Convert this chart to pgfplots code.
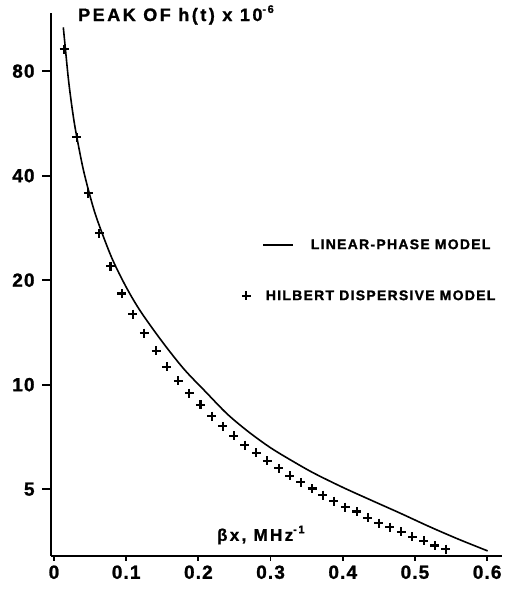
\documentclass[border=0pt]{standalone}
\usepackage{fontspec}
\setmainfont{Liberation Sans}[LetterSpace=6, BoldFeatures={FakeBold=1.2}]
\newfontfamily\lblfont{Liberation Sans}[LetterSpace=14, BoldFeatures={FakeBold=1.2}]
\newfontfamily\legfont{Liberation Sans}[LetterSpace=9, BoldFeatures={FakeBold=1.2}]
\usepackage{pgfplots}
\pgfplotsset{compat=1.18}
\pgfplotstableread{
x y
0.0129 107
0.015 96.5
0.02 75.8
0.025 62.8
0.03 53.9
0.04 42.2
0.05 34.9
0.06 29.8
0.08 23.2
0.10 19.1
0.12 16.25
0.15 13.29
0.18 11.09
0.21 9.54
0.24 8.23
0.27 7.30
0.30 6.58
0.33 6.03
0.36 5.56
0.40 5.06
0.44 4.64
0.48 4.26
0.52 3.90
0.56 3.59
0.6007 3.32
}\linear
\pgfplotstableread{
x y
0.0139 92.6
0.0314 51.6
0.0475 35.6
0.0627 27.3
0.0783 21.95
0.0942 18.3
0.1094 15.97
0.1251 14.08
0.1413 12.52
0.1565 11.26
0.1722 10.27
0.1874 9.44
0.2029 8.76
0.2188 8.12
0.2337 7.59
0.2489 7.12
0.2645 6.70
0.2802 6.37
0.2954 6.03
0.3112 5.74
0.3265 5.46
0.3417 5.23
0.3576 5.02
0.3726 4.81
0.3878 4.62
0.4035 4.44
0.4193 4.31
0.4349 4.14
0.4501 3.99
0.4654 3.89
0.4810 3.77
0.4963 3.65
0.5121 3.55
0.5273 3.44
0.5429 3.36
}\hilbert
\begin{document}
\begin{tikzpicture}
\useasboundingbox (0,0) rectangle (504pt,589pt);
\begin{axis}[
  at={(51.1pt,33pt)}, anchor=south west,
  scale only axis, width=450.5pt, height=542.8pt,
  xmin=-0.004, xmax=0.62, ymin=3.21, ymax=117.5, ymode=log,
  axis x line=bottom, axis y line=left,
  axis line style={-, line width=2.6pt},
  xtick={0,0.1,0.2,0.3,0.4,0.5,0.6},
  xticklabels={0,0.1,0.2,0.3,0.4,0.5,0.6},
  ytick={5,10,20,40,80}, yticklabels={5,10,20,40,80},
  yminorticks=false, xminorticks=false,
  tick align=outside, major tick length=9pt,
  tick style={line width=1.8pt, black},
  xtick style={/pgfplots/major tick length=5pt},
  ticklabel style={font=\fontsize{19}{19}\selectfont\bfseries},
  xticklabel style={yshift=3pt},
  yticklabel style={xshift=-4pt},
  /pgf/number format/assume math mode=true,
  clip=false,
  legend style={at={(0.4682,0.573)}, anchor=west, draw=none, fill=none,
    inner sep=0pt, nodes={inner sep=0pt},
    font=\legfont\fontsize{14}{14}\selectfont\bfseries},
  legend image code/.code={\draw[line width=1.6pt] (0pt,0pt) -- (30pt,0pt); \path (47pt,0pt);},
]
\addplot[black, line width=1.6pt, smooth] table[x=x,y=y] {\linear};
\addlegendentry{LINEAR-PHASE MODEL}
\node[anchor=west, inner sep=0pt, font=\lblfont\fontsize{18}{18}\selectfont\bfseries]
  at (rel axis cs:0.0597,0.9967) {PEAK OF h(t) x 10\raisebox{0.45em}{\fontsize{11}{11}\selectfont -6}};
\node[anchor=west, inner sep=0pt, font=\lblfont\fontsize{17}{17}\selectfont\bfseries]
  at (rel axis cs:0.368,0.0387) {βx, MHz\raisebox{0.45em}{\fontsize{11}{11}\selectfont -1}};
\end{axis}
\begin{axis}[
  at={(51.1pt,33pt)}, anchor=south west,
  scale only axis, width=450.5pt, height=542.8pt,
  xmin=-0.004, xmax=0.62, ymin=3.21, ymax=117.5, ymode=log,
  hide axis, clip=false,
  legend style={at={(0.4204,0.479)}, anchor=west, draw=none, fill=none,
    inner sep=0pt, nodes={inner sep=0pt},
    font=\legfont\fontsize{14}{14}\selectfont\bfseries},
  legend image code/.code={\path[#1] plot[only marks] coordinates {(4.5pt,0pt)}; \path (0pt,0pt) (23pt,0pt);},
]
\addplot[black, only marks, mark=+, mark size=4.5pt, line width=2.2pt] table[x=x,y=y] {\hilbert};
\addlegendentry{HILBERT DISPERSIVE MODEL}
\end{axis}
\end{tikzpicture}
\end{document}
